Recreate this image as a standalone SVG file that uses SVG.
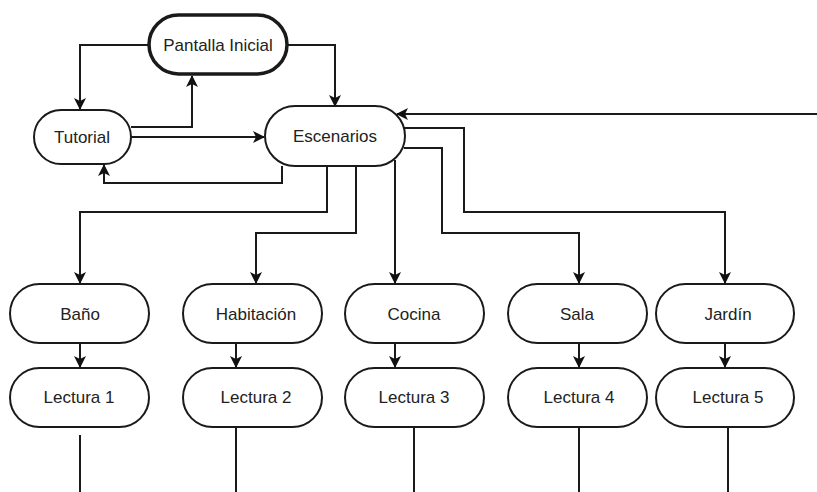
<svg xmlns="http://www.w3.org/2000/svg" width="817" height="492" viewBox="0 0 817 492">
  <defs>
    <marker id="arrow" viewBox="0 0 12 12" refX="11" refY="6" markerWidth="12" markerHeight="12" markerUnits="userSpaceOnUse" orient="auto">
      <path d="M0,0 L12,6 L0,12 L3,6 z" fill="#111"/>
    </marker>
    <style>
      .node rect { fill: #fff; stroke: #1a1a1a; stroke-width: 2; }
      .node.start rect { stroke-width: 3.5; }
      .node text { font-family: "Liberation Sans", Arial, sans-serif; font-size: 17px; fill: #222; text-anchor: middle; }
      .edges path { fill: none; stroke: #1a1a1a; stroke-width: 2; }
      .edges path.arr { marker-end: url(#arrow); }
    </style>
  </defs>
  <rect width="817" height="492" fill="#fff"/>

  <!-- connectors -->
  <g class="edges" id="connectors">
    <!-- Pantalla Inicial -> Tutorial -->
    <path class="arr" d="M149,45 H80 V109"/>
    <!-- Pantalla Inicial -> Escenarios -->
    <path class="arr" d="M287,45 H335 V106"/>
    <!-- Tutorial -> Pantalla Inicial -->
    <path class="arr" d="M131,127 H192 V76"/>
    <!-- Tutorial -> Escenarios -->
    <path class="arr" d="M131,137 H264"/>
    <!-- Escenarios -> Tutorial -->
    <path class="arr" d="M282,166 V183 H104 V165"/>
    <!-- return into Escenarios from the right -->
    <path class="arr" d="M817,114 H397"/>
    <!-- Escenarios -> rooms -->
    <path class="arr" d="M327,166 V212 H80 V283"/>
    <path class="arr" d="M356,166 V233 H256 V283"/>
    <path class="arr" d="M395,160 V283"/>
    <path class="arr" d="M404,148 H442 V233 H579 V283"/>
    <path class="arr" d="M403,128 H464 V212 H725 V283"/>
    <!-- rooms -> readings -->
    <path class="arr" d="M80,344 V367"/>
    <path class="arr" d="M236,344 V367"/>
    <path class="arr" d="M395,344 V367"/>
    <path class="arr" d="M579,344 V367"/>
    <path class="arr" d="M725,344 V367"/>
    <!-- readings continue downward -->
    <path d="M80,435 V492"/>
    <path d="M236,428 V492"/>
    <path d="M414,428 V492"/>
    <path d="M579,428 V492"/>
    <path d="M728,428 V492"/>
  </g>

  <!-- nodes -->
  <g class="node start" id="pantalla-inicial">
    <rect x="149" y="15" width="138" height="59" rx="29.5"/>
    <text x="218" y="51">Pantalla Inicial</text>
  </g>
  <g class="node" id="tutorial">
    <rect x="34" y="110" width="97" height="54" rx="27"/>
    <text x="82" y="143">Tutorial</text>
  </g>
  <g class="node" id="escenarios">
    <rect x="265" y="106" width="140" height="60" rx="30"/>
    <text x="335" y="142">Escenarios</text>
  </g>

  <g class="node" id="bano">
    <rect x="10" y="284" width="139" height="59" rx="29.5"/>
    <text x="80" y="320">Baño</text>
  </g>
  <g class="node" id="habitacion">
    <rect x="183" y="284" width="139" height="59" rx="29.5"/>
    <text x="256" y="320">Habitación</text>
  </g>
  <g class="node" id="cocina">
    <rect x="345" y="284" width="139" height="59" rx="29.5"/>
    <text x="414" y="320">Cocina</text>
  </g>
  <g class="node" id="sala">
    <rect x="508" y="284" width="139" height="59" rx="29.5"/>
    <text x="577" y="320">Sala</text>
  </g>
  <g class="node" id="jardin">
    <rect x="656" y="284" width="138" height="59" rx="29.5"/>
    <text x="728" y="320">Jardín</text>
  </g>

  <g class="node" id="lectura-1">
    <rect x="10" y="368" width="139" height="59" rx="29.5"/>
    <text x="79" y="403">Lectura 1</text>
  </g>
  <g class="node" id="lectura-2">
    <rect x="183" y="368" width="139" height="59" rx="29.5"/>
    <text x="256" y="403">Lectura 2</text>
  </g>
  <g class="node" id="lectura-3">
    <rect x="345" y="368" width="139" height="59" rx="29.5"/>
    <text x="414" y="403">Lectura 3</text>
  </g>
  <g class="node" id="lectura-4">
    <rect x="508" y="368" width="139" height="59" rx="29.5"/>
    <text x="579" y="403">Lectura 4</text>
  </g>
  <g class="node" id="lectura-5">
    <rect x="656" y="368" width="138" height="59" rx="29.5"/>
    <text x="728" y="403">Lectura 5</text>
  </g>
</svg>
